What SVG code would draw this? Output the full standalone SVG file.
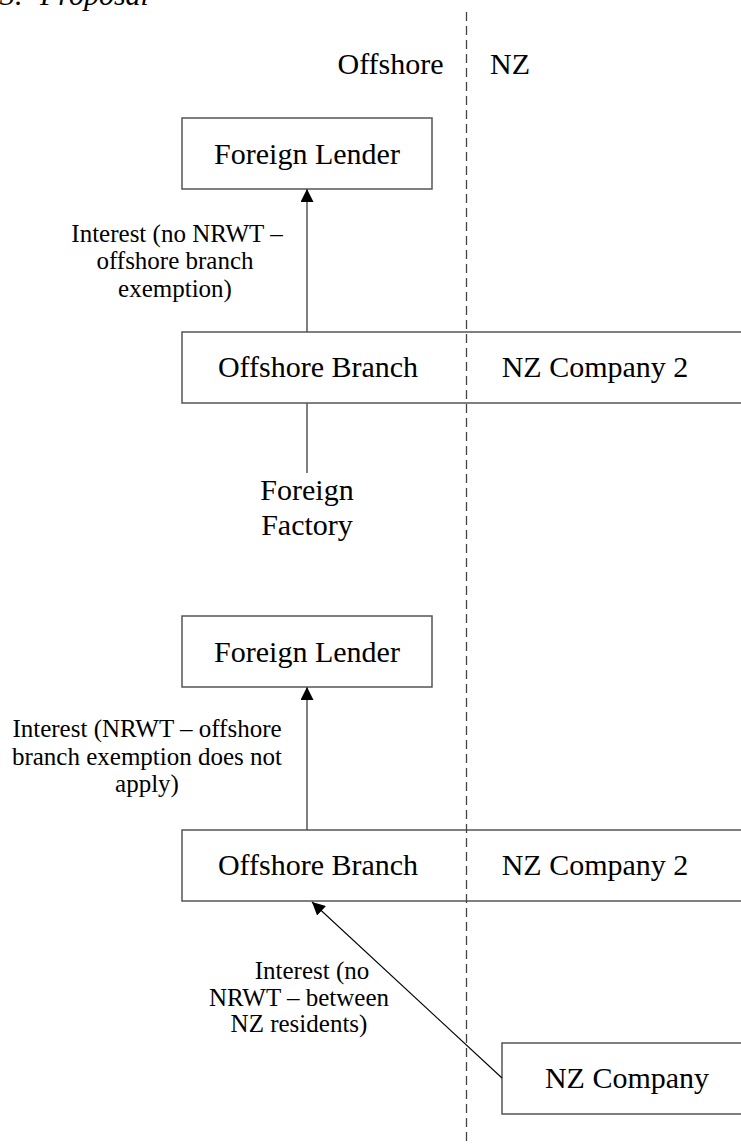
<svg xmlns="http://www.w3.org/2000/svg" width="741" height="1144" viewBox="0 0 741 1144">
<defs>
<style>
.t{font-family:"Liberation Serif","Times New Roman",serif;fill:#000}
.big{font-size:30px}
.lab{font-size:25px}
.box{fill:#fff;stroke:#555;stroke-width:1.5}
.ln{stroke:#555;stroke-width:1.5;fill:none}
.dash{stroke:#444;stroke-width:1.3;stroke-dasharray:9 5;fill:none}
</style>
<marker id="ah" markerWidth="13" markerHeight="13" refX="13" refY="6.5" orient="auto" markerUnits="userSpaceOnUse">
<path d="M0,0 L13,6.5 L0,13 Z" fill="#000"/>
</marker>
</defs>
<rect width="741" height="1144" fill="#fff"/>
<text class="t big" x="0" y="5" font-style="italic">3.<tspan x="40">Proposal</tspan></text>

<g id="nodes">
<g id="fl1"><rect class="box" x="182" y="118" width="250" height="71"/><text class="t big" x="307" y="163.5" text-anchor="middle">Foreign Lender</text></g>
<g id="ob1"><rect class="box" x="182" y="332" width="570" height="71"/><text class="t big" x="318" y="377" text-anchor="middle">Offshore Branch</text><text class="t big" x="595" y="377" text-anchor="middle">NZ Company 2</text></g>
<g id="ff"><text class="t big" x="307" y="500" text-anchor="middle">Foreign</text><text class="t big" x="307" y="535" text-anchor="middle">Factory</text></g>
<g id="fl2"><rect class="box" x="182" y="616" width="250" height="71"/><text class="t big" x="307" y="662" text-anchor="middle">Foreign Lender</text></g>
<g id="ob2"><rect class="box" x="182" y="830" width="570" height="71"/><text class="t big" x="318" y="875" text-anchor="middle">Offshore Branch</text><text class="t big" x="595" y="875" text-anchor="middle">NZ Company 2</text></g>
<g id="nzc"><rect class="box" x="502" y="1043" width="250" height="71"/><text class="t big" x="627" y="1088" text-anchor="middle">NZ Company</text></g>
</g>

<g id="divider">
<line class="dash" x1="466.5" y1="12" x2="466.5" y2="1144"/>
<text class="t big" x="337.5" y="73.5">Offshore</text>
<text class="t big" x="490" y="73.5">NZ</text>
</g>

<g id="connectors">
<line class="ln" x1="307" y1="332" x2="307" y2="189" marker-end="url(#ah)"/>
<line class="ln" x1="307" y1="403" x2="307" y2="473"/>
<line class="ln" x1="307" y1="830" x2="307" y2="687" marker-end="url(#ah)"/>
<line x1="502" y1="1078" x2="312" y2="902" stroke="#000" stroke-width="1.1" marker-end="url(#ah)"/>
</g>

<g id="labels">
<text class="t lab" text-anchor="middle"><tspan x="177" y="242">Interest (no NRWT –</tspan><tspan x="175" y="269">offshore branch</tspan><tspan x="175" y="296.5">exemption)</tspan></text>
<text class="t lab" text-anchor="middle"><tspan x="147" y="737">Interest (NRWT – offshore</tspan><tspan x="147" y="764.5">branch exemption does not</tspan><tspan x="147" y="792">apply)</tspan></text>
<text class="t lab" text-anchor="middle"><tspan x="312" y="979">Interest (no</tspan><tspan x="299" y="1005.5">NRWT – between</tspan><tspan x="299" y="1032">NZ residents)</tspan></text>
</g>
</svg>
